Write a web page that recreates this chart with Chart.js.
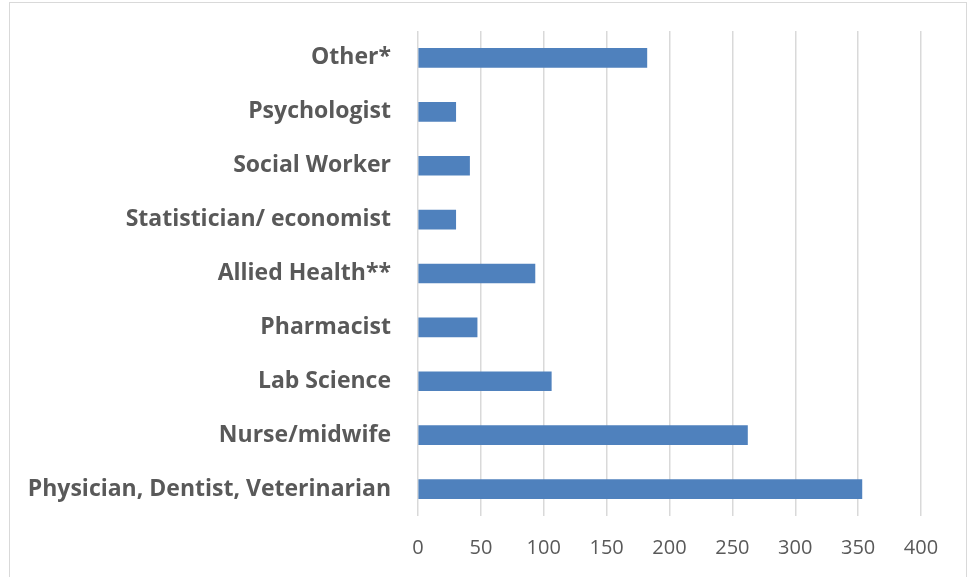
<!DOCTYPE html>
<html>
<head>
<meta charset="utf-8">
<script src="https://cdn.jsdelivr.net/npm/chart.js@4.4.0/dist/chart.umd.min.js"></script>
<style>
  html, body { margin: 0; padding: 0; background: #fff; }
  #wrap { position: relative; width: 969px; height: 577px; overflow: hidden; }
  #frame { position: absolute; left: 9px; top: 2px; width: 958px; height: 600px; border: 1px solid #d9d9d9; box-sizing: border-box; }
  canvas { position: absolute; left: 0; top: 0; }
</style>
</head>
<body>
<div id="wrap">
  <div id="frame"></div>
  <canvas id="c" width="969" height="577"></canvas>
</div>
<script>
const categories = [
  "Other*",
  "Psychologist",
  "Social Worker",
  "Statistician/ economist",
  "Allied Health**",
  "Pharmacist",
  "Lab Science",
  "Nurse/midwife",
  "Physician, Dentist, Veterinarian"
];
const values = [182, 30, 41, 30, 93, 47, 106, 262, 353];
const xTicks = [0, 50, 100, 150, 200, 250, 300, 350, 400];

const chart = new Chart(document.getElementById('c'), {
  type: 'bar',
  data: {
    labels: categories,
    datasets: [{
      data: values,
      backgroundColor: '#4f81bd',
      borderWidth: 0,
      barThickness: 19
    }]
  },
  options: {
    indexAxis: 'y',
    responsive: false,
    animation: false,
    layout: { padding: { left: 0, right: 48, top: 31, bottom: 0 } },
    plugins: { legend: { display: false }, tooltip: { enabled: false } },
    scales: {
      x: {
        min: xTicks[0],
        max: xTicks[xTicks.length - 1],
        afterBuildTicks: (s) => { s.ticks = xTicks.map(v => ({ value: v })); },
        afterFit: (s) => { s.height = 61; },
        border: { display: false },
        grid: { color: '#d9d9d9', lineWidth: 1.5, drawTicks: false },
        ticks: { color: '#595959', font: { family: 'Open Sans', size: 20 }, padding: 20 }
      },
      y: {
        afterFit: (s) => { s.width = 418; s.paddingTop = 0; s.paddingBottom = 0; },
        border: { display: false },
        grid: { display: false, drawTicks: false },
        ticks: { color: '#595959', font: { family: 'Open Sans', size: 23, weight: 'bold' }, padding: 27 }
      }
    }
  }
});
</script>
</body>
</html>
